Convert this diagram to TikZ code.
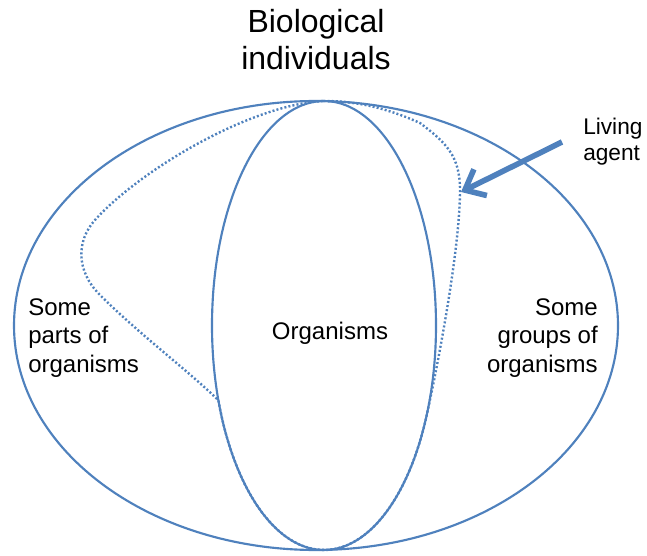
\documentclass[tikz,border=0pt]{standalone}
\usepackage{fontspec}
\setmainfont{Liberation Sans}
\usetikzlibrary{arrows.meta}
\definecolor{setblue}{RGB}{79,129,189}
\tikzstyle{setline}=[draw=setblue,line width=1.6pt]
\tikzset{
	lbl/.style={font=\fontsize{18}{21.4}\selectfont,inner sep=0pt},
	dots/.style={draw=setblue,line width=1.8pt,dash pattern=on 1.5pt off 1.6pt},
}

\begin{document}
\begin{tikzpicture}[x=0.75pt,y=-0.75pt]
    \useasboundingbox (0,0) rectangle (647,556);

    \draw[setline] (316,325.5) ellipse [x radius=302, y radius=224.5];
    \draw[setline] (324,325.5) ellipse [x radius=112, y radius=224.5];

    \draw[dots] (323,101) .. controls (250,105) and (140,170) .. (95,220)
        .. controls (77,240) and (75,270) .. (100,295)
        .. controls (140,335) and (190,372) .. (218.4,400.4)
        -- plot[domain=160.5:25,variable=\t,samples=60] ({324+112*cos(\t)},{325.5+224.5*sin(\t)})
        .. controls (437,370) and (460,250) .. (460,190)
        .. controls (460,155) and (445,142) .. (420,123)
        .. controls (380,105) and (350,101) .. (323,101);

    \node[lbl,font=\fontsize{24}{27.75}\selectfont,align=center] (title) at (316,40) {Biological\\individuals};
    \node[lbl,align=left,anchor=west] (parts) at (28,338) {Some\\parts of\\organisms};
    \node[lbl,align=right,anchor=east] (groups) at (598,338) {Some\\groups of\\organisms};
    \node[lbl] (org) at (330,333.5) {Organisms};
    \node[lbl,align=left,anchor=west,font=\fontsize{17}{19.5}\selectfont] (agent) at (583,142) {Living\\agent};

    \coordinate (tail) at (562,142);
    \coordinate (tip) at (461,192);
    \draw[setline,line width=4.2pt,-{Straight Barb[length=13pt,width=22pt]}] (tail) -- (tip);
\end{tikzpicture}
\end{document}
